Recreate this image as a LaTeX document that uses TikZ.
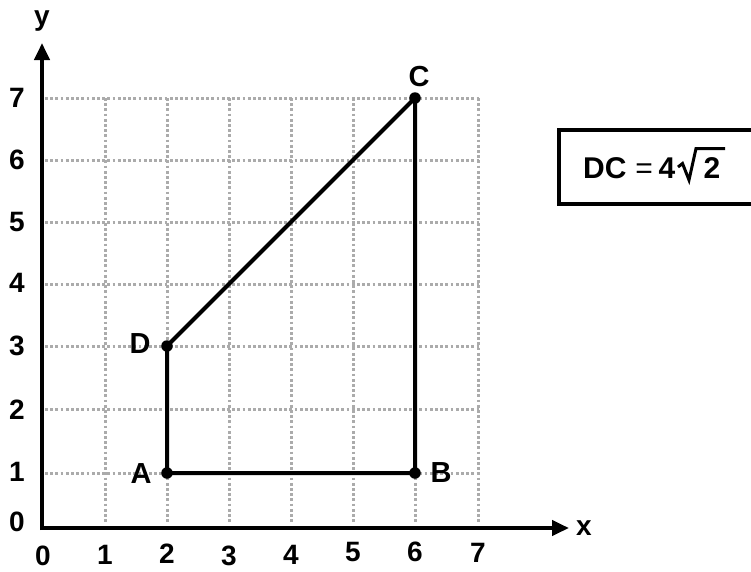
\documentclass[tikz,border=0pt]{standalone}
\usepackage{fontspec}
\setmainfont{Liberation Sans}
\usetikzlibrary{arrows.meta}
\tikzset{
  gridline/.style={black!33, line width=3pt, dash pattern=on 2.7pt off 2.5pt},
  axisline/.style={line width=4pt, -{Triangle[length=17pt,width=15pt]}},
  shapeline/.style={line width=4pt, line join=round},
  dotmark/.style={circle, fill=black, inner sep=0pt, minimum size=11.5pt},
  numlabel/.style={font=\fontsize{28}{33}\selectfont\bfseries, inner sep=0pt},
  ptlabel/.style={font=\fontsize{29}{34}\selectfont\bfseries, inner sep=0pt},
  boxtext/.style={font=\fontsize{30}{36}\selectfont\bfseries, inner sep=0pt, anchor=base},
  eqtext/.style={font=\fontsize{30}{36}\selectfont, inner sep=0pt, anchor=base},
  boxline/.style={line width=4pt}
}
\begin{document}
\begin{tikzpicture}[x=1pt,y=-1pt]
\useasboundingbox (0,0) rectangle (751,571);
\clip (0,0) rectangle (751,571);
% grid
\foreach \gx in {105,167,229,291,353,415,478}
  \draw[gridline] (\gx,98) -- (\gx,523);
\foreach \gy in {98,160,222,284,346,409,473}
  \draw[gridline] (45,\gy) -- (479,\gy);
% axes
\coordinate (xe) at (569,528);
\coordinate (ye) at (42,43);
\draw[axisline] (40,528) -- (xe);
\draw[axisline] (42,530) -- (ye);
\node[numlabel] (xl) at (584,528) {x};
\node[numlabel] (yl) at (42,21) {y};
% x tick labels
\node[numlabel] (x0) at (43,556) {0};
\node[numlabel] (x1) at (105,555) {1};
\node[numlabel] (x2) at (167,554) {2};
\node[numlabel] (x3) at (229,556) {3};
\node[numlabel] (x4) at (291,555) {4};
\node[numlabel] (x5) at (353,552) {5};
\node[numlabel] (x6) at (415,552) {6};
\node[numlabel] (x7) at (478,553) {7};
% y tick labels
\node[numlabel] (y0) at (17,522) {0};
\node[numlabel] (y1) at (17,472) {1};
\node[numlabel] (y2) at (17,410) {2};
\node[numlabel] (y3) at (17,346) {3};
\node[numlabel] (y4) at (17,283) {4};
\node[numlabel] (y5) at (17,222) {5};
\node[numlabel] (y6) at (17,160) {6};
\node[numlabel] (y7) at (17,98) {7};
% points
\coordinate (A) at (167,473);
\coordinate (B) at (415,473);
\coordinate (C) at (415,98);
\coordinate (D) at (167,346);
\draw[shapeline] (A) -- (B) -- (C) -- (D) -- cycle;
\node[dotmark] (dA) at (A) {};
\node[dotmark] (dB) at (B) {};
\node[dotmark] (dC) at (C) {};
\node[dotmark] (dD) at (D) {};
\node[ptlabel] (lA) at (141,474) {A};
\node[ptlabel] (lB) at (441,473) {B};
\node[ptlabel] (lC) at (419,77) {C};
\node[ptlabel] (lD) at (140,344) {D};
% box
\draw[boxline] (559,130) rectangle (770,204);
\node[boxtext, anchor=base west] (dcl) at (583,178.5) {DC};
\node[eqtext] (eq) at (644,178.5) {=};
\node[boxtext] (four) at (667,178.5) {4};
\node[boxtext] (two) at (712,178.5) {2};
\coordinate (r1) at (678,167);
\coordinate (r2) at (682.5,163.5);
\coordinate (r3) at (689,180);
\coordinate (r4) at (696,148.5);
\coordinate (r5) at (725,148.5);
\draw[line width=3pt, line join=miter] (r1) -- (r2) -- (r3) -- (r4) -- (r5);
\end{tikzpicture}
\end{document}
